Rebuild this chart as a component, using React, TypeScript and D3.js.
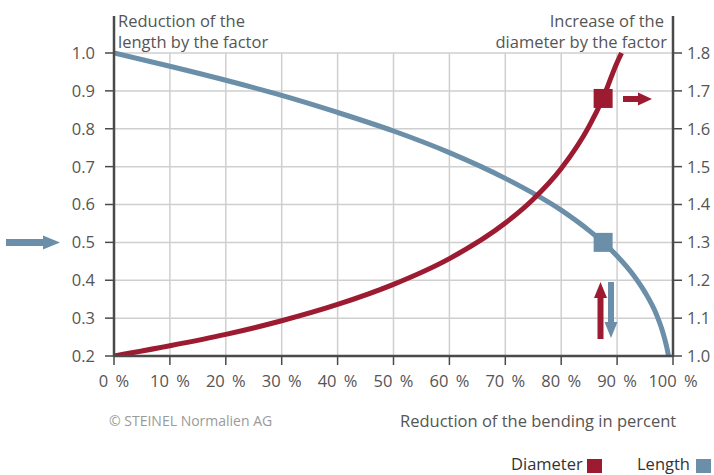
import React from "react";
import * as d3 from "d3";

const xTicks = [0, 10, 20, 30, 40, 50, 60, 70, 80, 90, 100];
const xTickLabels = ["0 %", "10 %", "20 %", "30 %", "40 %", "50 %", "60 %", "70 %", "80 %", "90 %", "100 %"];
const leftTicks = [0.2, 0.3, 0.4, 0.5, 0.6, 0.7, 0.8, 0.9, 1.0];
const rightTicks = [1.0, 1.1, 1.2, 1.3, 1.4, 1.5, 1.6, 1.7, 1.8];

const lengthX = [0, 10, 20, 30, 40, 50, 60, 70, 80, 85, 87.5, 90, 93, 95, 97, 98, 99, 99.2];
const lengthY = [1.0, 0.965, 0.928, 0.888, 0.843, 0.794, 0.737, 0.669, 0.585, 0.531, 0.5, 0.464, 0.412, 0.368, 0.311, 0.271, 0.215, 0.2];

const diameterX = [0, 10, 20, 30, 40, 50, 60, 70, 75, 80, 85, 87.5, 90, 90.8];
const diameterY = [1.0, 1.027, 1.057, 1.093, 1.136, 1.189, 1.257, 1.351, 1.414, 1.495, 1.607, 1.682, 1.775, 1.8];

const markerX = 87.5;
const lengthMarker = 0.5;
const diameterMarker = 1.68;

const RED = "#9c1b31";
const BLUE = "#6b8fa9";
const AXIS = "#4a4a4a";
const TEXT = "#555555";
const GRID = "#cfcfcf";
const FONT = "'Open Sans', sans-serif";

export default function App() {
  const W = 714, H = 475;
  const x = d3.scaleLinear().domain([0, 100]).range([114, 673]);
  const yL = d3.scaleLinear().domain([0.2, 1.0]).range([356, 53]);
  const yR = d3.scaleLinear().domain([1.0, 1.8]).range([356, 53]);

  const lenLine = d3.line<number>().x((d, i) => x(lengthX[i])).y((d) => yL(d)).curve(d3.curveMonotoneX);
  const diaLine = d3.line<number>().x((d, i) => x(diameterX[i])).y((d) => yR(d)).curve(d3.curveMonotoneX);

  const mx = x(markerX);
  const myL = yL(lengthMarker);
  const myR = yR(diameterMarker);

  const hArrow = (x0: number, x1: number, y: number, shaft: number, headLen: number, headH: number) => {
    const hx = x1 - headLen;
    return `M${x0},${y - shaft / 2} L${hx},${y - shaft / 2} L${hx},${y - headH / 2} L${x1},${y} L${hx},${y + headH / 2} L${hx},${y + shaft / 2} L${x0},${y + shaft / 2} Z`;
  };
  const vArrow = (cx: number, y0: number, y1: number, shaft: number, headLen: number, headW: number) => {
    const dir = y1 > y0 ? 1 : -1;
    const hy = y1 - dir * headLen;
    return `M${cx - shaft / 2},${y0} L${cx - shaft / 2},${hy} L${cx - headW / 2},${hy} L${cx},${y1} L${cx + headW / 2},${hy} L${cx + shaft / 2},${hy} L${cx + shaft / 2},${y0} Z`;
  };

  const FS = 16.5;

  return (
    <svg width={W} height={H} style={{ position: "absolute", left: 0, top: 0, background: "#fff" }} fontFamily={FONT}>
      {xTicks.slice(1, -1).map((t) => (
        <line key={"gx" + t} x1={x(t)} x2={x(t)} y1={yL(1.0)} y2={yL(0.2)} stroke={GRID} strokeWidth={1.5} />
      ))}
      {leftTicks.slice(1).map((t) => (
        <line key={"gy" + t} x1={x(0)} x2={x(100)} y1={yL(t)} y2={yL(t)} stroke={GRID} strokeWidth={1.5} />
      ))}

      <defs>
        <clipPath id="plot">
          <rect x={x(0)} y={yL(1.0) - 3} width={x(100) - x(0)} height={yL(0.2) - yL(1.0) + 3} />
        </clipPath>
      </defs>
      <path d={lenLine(lengthY) || ""} fill="none" stroke={BLUE} strokeWidth={5} clipPath="url(#plot)" />
      <path d={diaLine(diameterY) || ""} fill="none" stroke={RED} strokeWidth={5} clipPath="url(#plot)" />

      <line x1={x(0)} x2={x(0)} y1={16} y2={yL(0.2) + 1} stroke={AXIS} strokeWidth={2.5} />
      <line x1={x(100)} x2={x(100)} y1={16} y2={yL(0.2) + 1} stroke={AXIS} strokeWidth={2.5} />
      <line x1={x(0)} x2={x(100)} y1={yL(0.2)} y2={yL(0.2)} stroke={AXIS} strokeWidth={2.5} />

      {leftTicks.map((t) => (
        <g key={"lt" + t}>
          <line x1={x(0) - 9} x2={x(0)} y1={yL(t)} y2={yL(t)} stroke={AXIS} strokeWidth={1.5} />
          <text x={95} y={yL(t)} dy="0.36em" textAnchor="end" fontSize={FS} fill={TEXT}>{t.toFixed(1)}</text>
        </g>
      ))}
      {rightTicks.map((t) => (
        <g key={"rt" + t}>
          <line x1={x(100)} x2={x(100) + 9} y1={yR(t)} y2={yR(t)} stroke={AXIS} strokeWidth={1.5} />
          <text x={687} y={yR(t)} dy="0.36em" textAnchor="start" fontSize={FS} fill={TEXT}>{t.toFixed(1)}</text>
        </g>
      ))}
      {xTicks.map((t, i) => (
        <g key={"xt" + t}>
          <line x1={x(t)} x2={x(t)} y1={yL(0.2)} y2={yL(0.2) + 9} stroke={AXIS} strokeWidth={1.5} />
          <text x={x(t)} y={387} textAnchor="middle" fontSize={FS} wordSpacing={3} fill={TEXT}>{xTickLabels[i]}</text>
        </g>
      ))}

      <text x={118} y={27} fontSize={FS} fill={TEXT}>Reduction of the</text>
      <text x={118} y={48} fontSize={FS} fill={TEXT}>length by the factor</text>
      <text x={664} y={27} textAnchor="end" fontSize={FS} fill={TEXT}>Increase of the</text>
      <text x={667} y={48} textAnchor="end" fontSize={FS} fill={TEXT}>diameter by the factor</text>

      <rect x={mx - 9.5} y={myR - 9.5} width={19} height={19} fill={RED} />
      <rect x={mx - 9.5} y={myL - 9.5} width={19} height={19} fill={BLUE} />

      <path d={hArrow(623, 652, myR + 0.5, 6, 14, 13)} fill={RED} />
      <path d={hArrow(6, 60, myL, 7, 17, 14)} fill={BLUE} />
      <path d={vArrow(600.5, 339, 282, 6, 16, 13)} fill={RED} />
      <path d={vArrow(611, 282, 338, 6, 16, 13)} fill={BLUE} />

      <text x={109} y={426} fontSize={14} fill="#9a9a9a">© STEINEL Normalien AG</text>
      <text x={400} y={427} fontSize={FS} fill={TEXT}>Reduction of the bending in percent</text>

      <text x={511} y={470} fontSize={FS} fill="#333">Diameter</text>
      <rect x={587} y={459} width={15} height={14} fill={RED} />
      <text x={637} y={470} fontSize={FS} fill="#333">Length</text>
      <rect x={696} y={459} width={15} height={14} fill={BLUE} />
    </svg>
  );
}
